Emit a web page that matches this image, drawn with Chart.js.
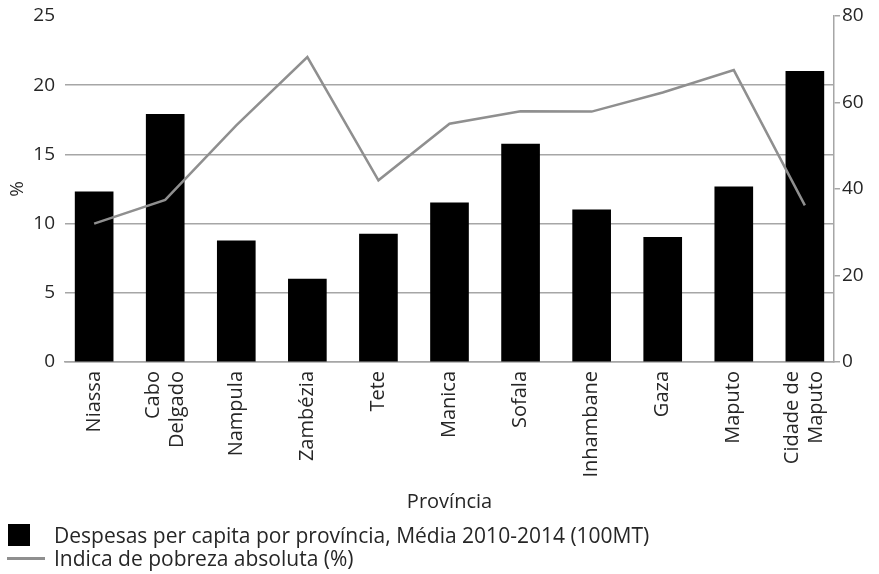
<!DOCTYPE html>
<html>
<head>
<meta charset="utf-8">
<script src="https://cdn.jsdelivr.net/npm/chart.js@4/dist/chart.umd.min.js"></script>
<style>
  html, body { margin: 0; padding: 0; background: #fff; }
  #wrap { position: relative; width: 879px; height: 574px; }
  #c { position: absolute; left: 0; top: 0; }
  .leg { position: absolute; font-family: "Open Sans", sans-serif; font-size: 21px; color: #262626; white-space: nowrap; line-height: 24px; }
  .sq { position: absolute; left: 8px; top: 524px; width: 22px; height: 22px; background: #000; }
  .ln { position: absolute; left: 7px; top: 557px; width: 38px; height: 2.5px; background: #8f8f8f; }
</style>
</head>
<body>
<div id="wrap">
  <canvas id="c" width="879" height="574"></canvas>
  <div class="sq"></div>
  <div class="leg" style="left:54px; top:523px;">Despesas per capita por província, Média 2010-2014 (100MT)</div>
  <div class="ln"></div>
  <div class="leg" style="left:54px; top:546px;">Indica de pobreza absoluta (%)</div>
</div>
<script>
const categories = ["Niassa", ["Cabo", "Delgado"], "Nampula", "Zambézia", "Tete", "Manica", "Sofala", "Inhambane", "Gaza", "Maputo", ["Cidade de", "Maputo"]];
const despesas = [12.3, 17.9, 8.75, 6.0, 9.25, 11.5, 15.75, 11.0, 9.0, 12.65, 21.0];
const pobreza = [32.0, 37.5, 54.7, 70.5, 42.0, 55.1, 58.0, 57.9, 62.3, 67.5, 36.2];
const leftTicks = [0, 5, 10, 15, 20, 25];
const rightTicks = [0, 20, 40, 60, 80];

const FONT = { family: "'Open Sans', sans-serif", size: 19 };
const XFONT = { family: "'Open Sans', sans-serif", size: 20 };
const GRID = '#a6a6a6';
const TXT = '#262626';

new Chart(document.getElementById('c'), {
  data: {
    datasets: [
      {
        type: 'line',
        label: 'Indica de pobreza absoluta (%)',
        data: pobreza.map((v, i) => ({ x: i, y: v })),
        yAxisID: 'y1',
        borderColor: '#8f8f8f',
        borderWidth: 2.5,
        pointRadius: 0,
        tension: 0,
        order: 0
      },
      {
        type: 'bar',
        label: 'Despesas per capita por província, Média 2010-2014 (100MT)',
        data: despesas.map((v, i) => ({ x: i, y: v })),
        yAxisID: 'y',
        backgroundColor: '#000000',
        barThickness: 38,
        order: 1
      }
    ]
  },
  options: {
    responsive: false,
    animation: false,
    layout: { padding: { top: 16, right: 0, bottom: 56, left: 0 } },
    plugins: { legend: { display: false }, tooltip: { enabled: false } },
    scales: {
      x: {
        type: 'linear',
        offset: false,
        min: -0.41,
        max: 10.41,
        afterBuildTicks: (axis) => { axis.ticks = categories.map((c, i) => ({ value: Array.isArray(c) ? i - 0.17 : i })); },
        afterFit: (axis) => { axis.height = 574 - 56 - 362; },
        grid: { display: false, drawTicks: false, offset: false },
        border: { display: true, color: GRID, width: 1.5 },
        ticks: {
          minRotation: 90, maxRotation: 90, autoSkip: false, padding: 9,
          color: TXT, font: XFONT,
          callback: (v) => categories[Math.round(v)]
        },
        title: { display: true, text: 'Província', color: TXT, font: XFONT, padding: { top: 4, bottom: 4 } }
      },
      y: {
        position: 'left',
        min: 0, max: 25,
        afterBuildTicks: (axis) => { axis.ticks = leftTicks.map(v => ({ value: v })); },
        afterFit: (axis) => { axis.width = 65; },
        grid: { color: (ctx) => ctx.tick && ctx.tick.value === 25 ? 'rgba(0,0,0,0)' : GRID, lineWidth: 1.5, drawTicks: true, tickLength: 10, tickColor: 'rgba(0,0,0,0)' },
        border: { display: false },
        ticks: { color: TXT, font: FONT, padding: 0 },
        title: { display: true, text: '%', color: TXT, font: FONT, padding: { top: 6, bottom: 0 } }
      },
      y1: {
        position: 'right',
        min: 0, max: 80,
        afterBuildTicks: (axis) => { axis.ticks = rightTicks.map(v => ({ value: v })); },
        afterFit: (axis) => { axis.width = 45; },
        grid: { drawOnChartArea: false, drawTicks: true, tickLength: 6, color: GRID, lineWidth: 1.5 },
        border: { display: true, color: GRID, width: 1.5 },
        ticks: { color: TXT, font: FONT, padding: 2 }
      }
    }
  }
});
</script>
</body>
</html>
